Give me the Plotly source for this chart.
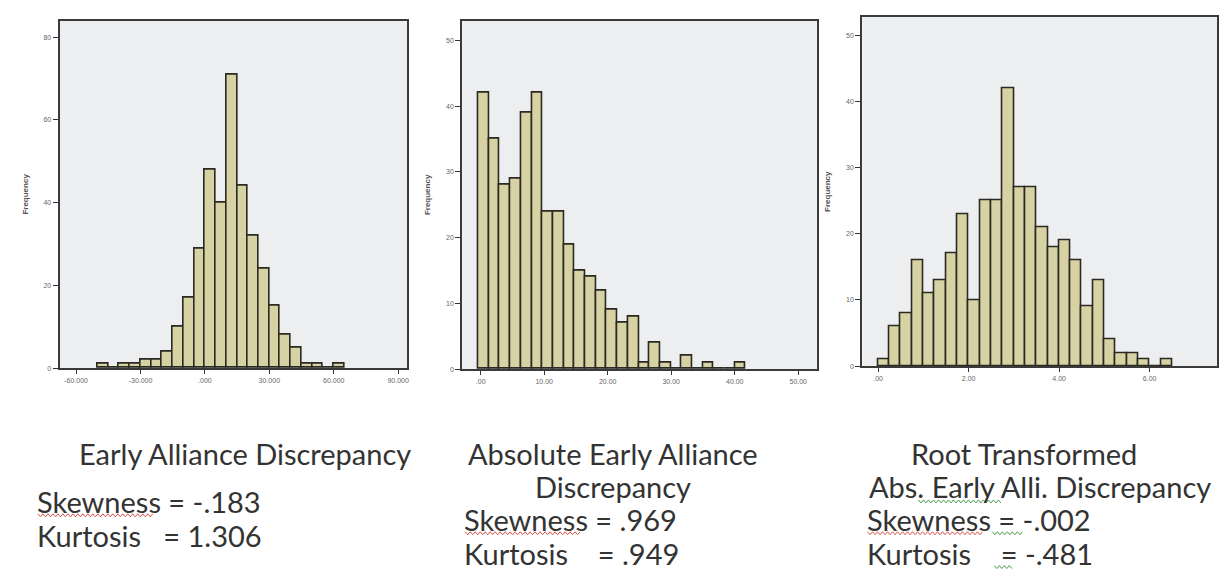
import plotly.graph_objects as go

W, H = 1228, 577

# ---------------- data ----------------
# Panel 1: Early Alliance Discrepancy (bin width 5, starting at -50)
p1_bin_start = -50.0
p1_bin_width = 5.0
p1_counts = [1, 0, 1, 1, 2, 2, 4, 10, 17, 29, 48, 40, 71, 44, 32, 24, 15, 8, 5, 1, 1, 0, 1]
p1_xticks = [-60, -30, 0, 30, 60, 90]
p1_xticklabels = ["-60.000", "-30.000", ".000", "30.000", "60.000", "90.000"]
p1_yticks = [0, 20, 40, 60, 80]

# Panel 2: Absolute Early Alliance Discrepancy
p2_bin_start = -0.37
p2_bin_width = 1.684
p2_counts = [42, 35, 28, 29, 39, 42, 24, 24, 19, 15, 14, 12, 9, 7, 8, 1, 4, 1, 0, 2, 0, 1, 0, 0, 1]
p2_xticks = [0, 10, 20, 30, 40, 50]
p2_xticklabels = [".00", "10.00", "20.00", "30.00", "40.00", "50.00"]
p2_yticks = [0, 10, 20, 30, 40, 50]

# Panel 3: Root transformed
p3_bin_start = 0.0
p3_bin_width = 0.25
p3_counts = [1, 6, 8, 16, 11, 13, 17, 23, 10, 25, 25, 42, 27, 27, 21, 18, 19, 16, 9, 13, 4, 2, 2, 1, 0, 1]
p3_xticks = [0, 2, 4, 6]
p3_xticklabels = [".00", "2.00", "4.00", "6.00"]
p3_yticks = [0, 10, 20, 30, 40, 50]

titles = [
    ["Early Alliance Discrepancy"],
    ["Absolute Early Alliance", "Discrepancy"],
    ["Root Transformed", "Abs. Early Alli. Discrepancy"],
]
skew_text = ["Skewness = -.183", "Skewness = .969", "Skewness = -.002"]
kurt_text = ["Kurtosis   = 1.306", "Kurtosis    = .949", "Kurtosis    = -.481"]

# ---------------- layout helpers ----------------
def px(x):
    return x / W

def py(y):
    return 1 - y / H

BAR_FILL = "#D7D2A3"
BAR_LINE = "#2a2a22"
PLOT_BG = "#EDEEF0"
FRAME = "#3a3a3a"

panels = [
    dict(start=p1_bin_start, width=p1_bin_width, counts=p1_counts,
         xt=p1_xticks, xtl=p1_xticklabels, yt=p1_yticks,
         xr=[-67.7, 94.3], yr=[0, 84],
         dom_x=[px(51.7), px(400)], dom_y=[py(362), py(12.7)]),
    dict(start=p2_bin_start, width=p2_bin_width, counts=p2_counts,
         xt=p2_xticks, xtl=p2_xticklabels, yt=p2_yticks,
         xr=[-2.9, 52.9], yr=[0, 53],
         dom_x=[px(455), px(810)], dom_y=[py(363), py(12.7)]),
    dict(start=p3_bin_start, width=p3_bin_width, counts=p3_counts,
         xt=p3_xticks, xtl=p3_xticklabels, yt=p3_yticks,
         xr=[-0.35, 7.49], yr=[0, 52.7],
         dom_x=[px(855.7), px(1211)], dom_y=[py(360), py(9.3)]),
]

fig = go.Figure()
layout = dict(
    width=W, height=H,
    margin=dict(l=0, r=0, t=0, b=0),
    paper_bgcolor="white",
    showlegend=False,
    bargap=0,
)

tick_font = dict(family="Liberation Sans, Arial", size=7, color="#666")

for i, p in enumerate(panels):
    n = i + 1
    xa = "x" if n == 1 else f"x{n}"
    ya = "y" if n == 1 else f"y{n}"
    centers = [p["start"] + p["width"] * (k + 0.5) for k in range(len(p["counts"]))]
    fig.add_trace(go.Bar(
        x=centers, y=p["counts"], width=p["width"],
        marker=dict(color=BAR_FILL, line=dict(color=BAR_LINE, width=1.6)),
        xaxis=xa, yaxis=ya, hoverinfo="x+y",
    ))
    layout["xaxis" if n == 1 else f"xaxis{n}"] = dict(
        domain=p["dom_x"], anchor=ya, range=p["xr"],
        tickmode="array", tickvals=p["xt"], ticktext=p["xtl"],
        ticks="outside", ticklen=4, tickcolor="#333", tickwidth=1,
        showline=True, mirror=True, linecolor=FRAME, linewidth=2,
        showgrid=False, zeroline=False, tickfont=tick_font, fixedrange=True,
    )
    layout["yaxis" if n == 1 else f"yaxis{n}"] = dict(
        domain=p["dom_y"], anchor=xa, range=p["yr"],
        tickmode="array", tickvals=p["yt"],
        ticks="outside", ticklen=5, tickcolor="#333", tickwidth=1,
        showline=True, mirror=True, linecolor=FRAME, linewidth=2,
        showgrid=False, zeroline=False, tickfont=tick_font, fixedrange=True,
        title=dict(text="<b>Frequency</b>", font=dict(family="Liberation Sans, Arial", size=8, color="#555"), standoff=14),
    )

layout["plot_bgcolor"] = PLOT_BG
fig.update_layout(**layout)

# ---------------- text below charts ----------------
TXT = dict(family="Lato, Open Sans, sans-serif", size=29, color="#333")
ann = []
# panel 1
ann.append(dict(text=titles[0][0], x=px(237), y=py(448), xanchor="center", yanchor="middle"))
ann.append(dict(text=skew_text[0], x=px(27), y=py(496), xanchor="left", yanchor="middle"))
ann.append(dict(text=kurt_text[0], x=px(27), y=py(530), xanchor="left", yanchor="middle"))
# panel 2
ann.append(dict(text=titles[1][0], x=px(606), y=py(448), xanchor="center", yanchor="middle"))
ann.append(dict(text=titles[1][1], x=px(606), y=py(481), xanchor="center", yanchor="middle"))
ann.append(dict(text=skew_text[1], x=px(455), y=py(514), xanchor="left", yanchor="middle"))
ann.append(dict(text=kurt_text[1], x=px(455), y=py(548), xanchor="left", yanchor="middle"))
# panel 3
ann.append(dict(text=titles[2][0], x=px(1018), y=py(448), xanchor="center", yanchor="middle"))
ann.append(dict(text=titles[2][1], x=px(1034), y=py(481), xanchor="center", yanchor="middle"))
ann.append(dict(text=skew_text[2], x=px(858), y=py(514), xanchor="left", yanchor="middle"))
ann.append(dict(text=kurt_text[2], x=px(858), y=py(548), xanchor="left", yanchor="middle"))
for a in ann:
    a.update(xref="paper", yref="paper", showarrow=False, font=TXT)
fig.update_layout(annotations=ann)

# ---------------- spell-check squiggles (decoration) ----------------
def squiggle(x0, x1, y, color):
    pts = []
    x = x0
    up = True
    while x <= x1:
        pts.append((x, y - 1.5 if up else y + 1.5))
        up = not up
        x += 2.5
    d = "M " + " L ".join(f"{px(a):.5f},{py(b):.5f}" for a, b in pts)
    return dict(type="path", path=d, xref="paper", yref="paper",
                line=dict(color=color, width=1))

shapes = [
    squiggle(30, 146, 510, "#d9534f"),
    squiggle(458, 574, 528, "#d9534f"),
    squiggle(861, 977, 528, "#d9534f"),
    squiggle(912, 995, 496, "#4a9a4a"),
    squiggle(986, 1016, 528, "#4a9a4a"),
    squiggle(988, 1006, 562, "#4a9a4a"),
]
fig.update_layout(shapes=shapes)

fig.write_html("out.html")
